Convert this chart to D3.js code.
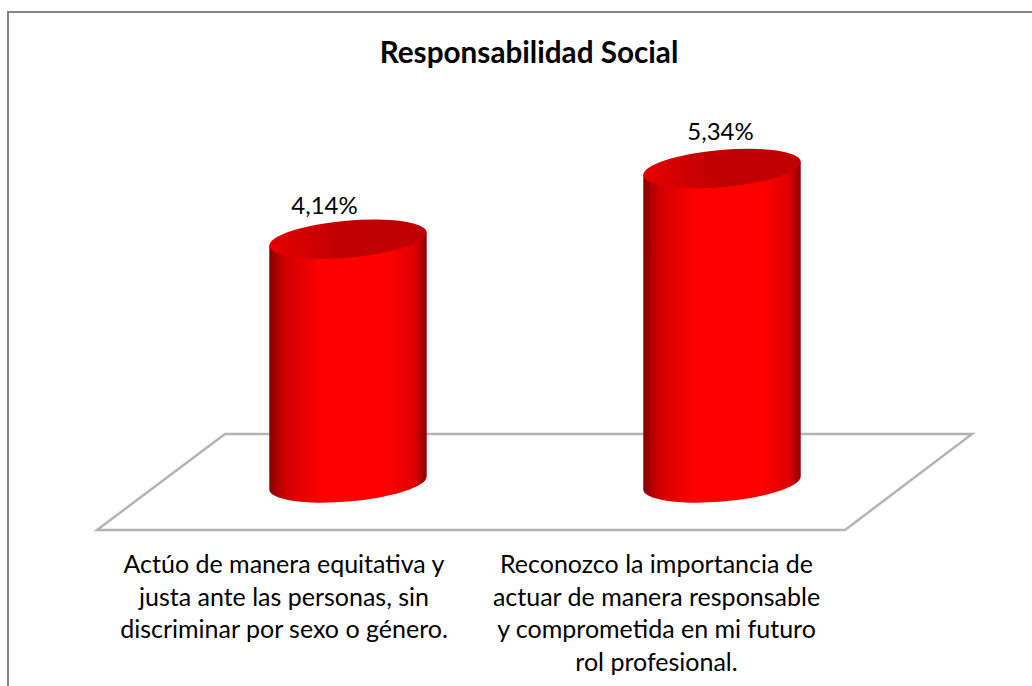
<!DOCTYPE html>
<html>
<head>
<meta charset="utf-8">
<script src="https://d3js.org/d3.v7.min.js"></script>
<style>
    html, body { margin: 0; padding: 0; background: #fff; overflow: hidden; }
    text { font-family: Lato, "Noto Sans", sans-serif; fill: #000; }
</style>
</head>
<body>
<script>
// Responsabilidad Social - 3D cylinder columns

var w = 1032, h = 686;

var title = "Responsabilidad Social";
var categories = ["a", "b"];
var values = [4.14, 5.34];
var valueLabels = ["4,14%", "5,34%"];
var categoryLines = [
    ["Actúo de manera equitativa y", "justa ante las personas, sin", "discriminar por sexo o género."],
    ["Reconozco la importancia de", "actuar de manera responsable", "y comprometida en mi futuro", "rol profesional."]
];

var svg = d3.select("body")
    .append("svg")
    .attr("width", w)
    .attr("height", h);

var defs = svg.append("defs");

// side of the cylinder, dark at both edges
var sideGrad = defs.append("linearGradient").attr("id", "side");
[[0, "#850000"], [0.1, "#d00000"], [0.33, "#ff0000"], [0.75, "#ff0000"], [0.92, "#e00000"], [1, "#900000"]]
    .forEach(function (s) {
        sideGrad.append("stop").attr("offset", s[0]).attr("stop-color", s[1]);
    });

// top cap, a bit brighter on the left
var capGrad = defs.append("linearGradient").attr("id", "cap");
[[0, "#e60000"], [0.45, "#c00000"], [1, "#c00000"]]
    .forEach(function (s) {
        capGrad.append("stop").attr("offset", s[0]).attr("stop-color", s[1]);
    });

// outer frame, only left and top are in the crop
svg.append("path")
    .attr("d", "M8,686V12H1032")
    .attr("fill", "none")
    .attr("stroke", "#868686")
    .attr("stroke-width", 2);

// floor of the 3D plot
svg.append("polygon")
    .attr("points", "97,530 225,434 972,434 845,530")
    .attr("fill", "#fff")
    .attr("stroke", "#b4b4b4")
    .attr("stroke-width", 2.5);

var x = d3.scaleBand()
    .domain(categories)
    .range([161, 909])
    .paddingInner(0)
    .paddingOuter(0);

var y = d3.scaleLinear()
    .domain([0, 5.34])
    .range([483, 168.5]);

// tilted ellipse of the cylinder ends
var a = 79, b = 18.5, tilt = -5 * Math.PI / 180;
var sx = Math.sqrt(a * a * Math.cos(tilt) * Math.cos(tilt) + b * b * Math.sin(tilt) * Math.sin(tilt));
var sy = (a * a - b * b) * Math.sin(tilt) * Math.cos(tilt) / sx; // y offset of the right tangent point
var tiltDeg = tilt * 180 / Math.PI;

var bars = svg.selectAll(".bar")
    .data(values)
    .enter()
    .append("g")
    .attr("class", "bar");

function cx(i) {
    return x(categories[i]) + x.bandwidth() / 2;
}

bars.append("path")
    .attr("d", function (d, i) {
        var c = cx(i), top = y(d), base = y(0);
        return "M" + (c - sx) + "," + (top - sy)
            + "L" + (c - sx) + "," + (base - sy)
            + "A" + a + "," + b + "," + tiltDeg + ",0,0," + (c + sx) + "," + (base + sy)
            + "L" + (c + sx) + "," + (top + sy) + "Z";
    })
    .attr("fill", "url(#side)");

bars.append("ellipse")
    .attr("rx", a)
    .attr("ry", b)
    .attr("transform", function (d, i) {
        return "translate(" + cx(i) + "," + y(d) + ") rotate(" + tiltDeg + ")";
    })
    .attr("fill", "url(#cap)");

var labelShift = [-23.5, -1.5];
var labelLift = [25, 28.5];

svg.selectAll(".valueLabel")
    .data(values)
    .enter()
    .append("text")
    .attr("class", "valueLabel")
    .attr("text-anchor", "middle")
    .attr("font-size", 24)
    .attr("x", function (d, i) { return cx(i) + labelShift[i]; })
    .attr("y", function (d, i) { return y(d) - labelLift[i]; })
    .text(function (d, i) { return valueLabels[i]; });

svg.append("text")
    .attr("text-anchor", "middle")
    .attr("font-size", 29.7)
    .attr("font-weight", "bold")
    .attr("x", 529)
    .attr("y", 63)
    .text(title);

// category labels, wrapped by hand like the original
var catX = [284, 656.5];

svg.selectAll(".catLabel")
    .data(categoryLines)
    .enter()
    .append("text")
    .attr("class", "catLabel")
    .attr("text-anchor", "middle")
    .attr("font-size", 25)
    .selectAll("tspan")
    .data(function (d, i) {
        return d.map(function (t) { return { t: t, i: i }; });
    })
    .enter()
    .append("tspan")
    .attr("x", function (d) { return catX[d.i]; })
    .attr("y", function (d, j) { return 573 + j * 32.7; })
    .text(function (d) { return d.t; });
</script>
</body>
</html>
